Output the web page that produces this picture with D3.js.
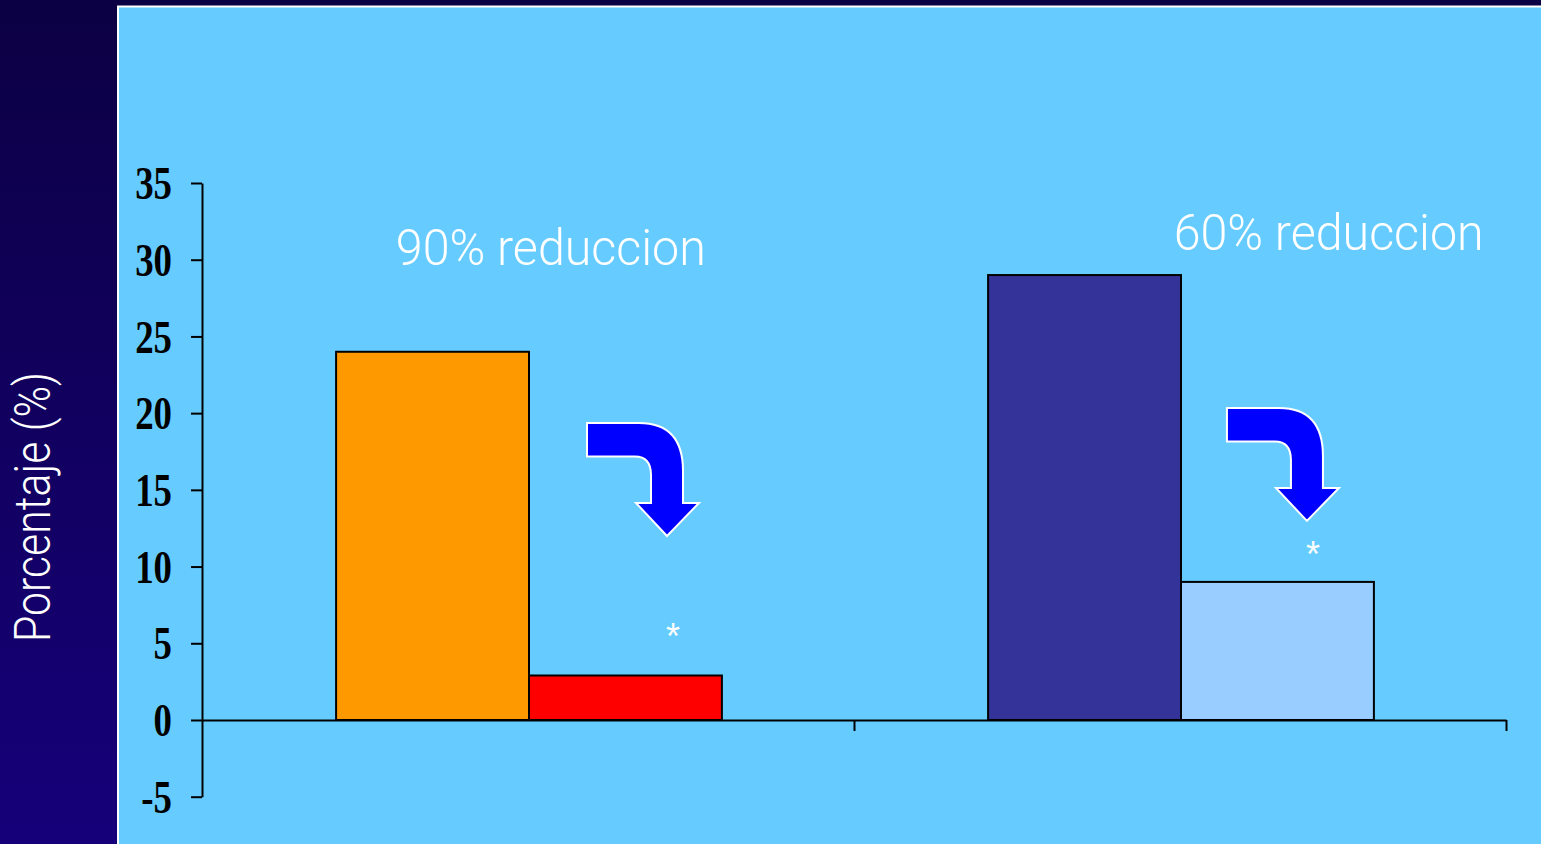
<!DOCTYPE html>
<html>
<head>
<meta charset="utf-8">
<script src="https://cdn.jsdelivr.net/npm/d3@7"></script>
<style>
  html, body { margin: 0; padding: 0; background: #0e0048; overflow: hidden; }
  svg { display: block; }
</style>
</head>
<body>
<svg id="chart" width="1541" height="844"></svg>
<script>
// ---- data ----
const groups = ["Grupo 1", "Grupo 2"];
const subgroups = ["Antes", "Después"];
const valuesGroup1 = [24, 2.9];
const valuesGroup2 = [29, 9];
const barColors = [["#FF9900", "#FF0000"], ["#333399", "#99CCFF"]];
const yTicks = [-5, 0, 5, 10, 15, 20, 25, 30, 35];
const yTitle = "Porcentaje (%)";
const annotationTexts = ["90% reduccion", "60% reduccion"];
const annotationX = [0.535, 1.728];       // in category-boundary units
const annotationY = [29.66, 30.64];       // in value units (baseline)
const arrowX = [0.5905, 1.572];
const arrowY = [19.36, 20.34];
const starX = [0.7224, 1.704];
const starY = [5.8, 11.15];

// ---- layout ----
const svg = d3.select("#chart");
const W = 1541, H = 844;

const defs = svg.append("defs");
const grad = defs.append("linearGradient").attr("id", "bg").attr("x1", 0).attr("y1", 0).attr("x2", 0).attr("y2", 1);
grad.append("stop").attr("offset", "0%").attr("stop-color", "#0c0044");
grad.append("stop").attr("offset", "100%").attr("stop-color", "#16007a");
svg.append("rect").attr("width", W).attr("height", H).attr("fill", "url(#bg)");

// light blue panel
svg.append("rect")
  .attr("x", 118).attr("y", 6.5).attr("width", W).attr("height", H)
  .attr("fill", "#66CCFF").attr("stroke", "#FFFFFF").attr("stroke-width", 2);

const y = d3.scaleLinear().domain([-5, 35]).range([796.7, 183]);
const x0 = d3.scaleBand().domain(groups).range([203, 1507]).paddingInner(0).paddingOuter(0);
const x1 = d3.scaleBand().domain(subgroups).range([0, x0.bandwidth()]).paddingInner(0).paddingOuter(0.69);
const xb = d3.scaleLinear().domain([0, 2]).range([202, 1506]);

const data = groups.map((g, i) => ({
  group: g,
  values: (i === 0 ? valuesGroup1 : valuesGroup2).map((v, j) => ({ key: subgroups[j], value: v, color: barColors[i][j] }))
}));

// bars
const gBars = svg.append("g");
gBars.selectAll("g").data(data).join("g")
  .attr("transform", d => `translate(${x0(d.group)},0)`)
  .selectAll("rect").data(d => d.values).join("rect")
  .attr("x", d => x1(d.key))
  .attr("y", d => y(d.value))
  .attr("width", x1.bandwidth())
  .attr("height", d => y(0) - y(d.value))
  .attr("fill", d => d.color)
  .attr("stroke", "#000")
  .attr("stroke-width", 2);

// y axis
const yAxis = svg.append("g")
  .attr("transform", "translate(202,0)")
  .call(d3.axisLeft(y).tickValues(yTicks).tickSize(11).tickSizeOuter(0).tickFormat(d3.format("d")));
yAxis.select(".domain").attr("stroke", "#000").attr("stroke-width", 2);
yAxis.selectAll(".tick line").attr("stroke", "#000").attr("stroke-width", 2);
const sx = 0.8;
yAxis.selectAll(".tick text")
  .attr("font-family", "'Liberation Serif', 'Times New Roman', serif")
  .attr("font-weight", "bold")
  .attr("font-size", 46)
  .attr("fill", "#000")
  .attr("dy", "0.34em")
  .attr("x", -30 / sx)
  .attr("transform", `scale(${sx},1)`)
  .text(d => d3.format("d")(d).replace("−", "-"));

// x axis
const xAxis = svg.append("g")
  .attr("transform", `translate(0,${y(0)})`)
  .call(d3.axisBottom(xb).tickValues([1, 2]).tickSize(11).tickSizeOuter(0).tickFormat(""));
xAxis.select(".domain").attr("stroke", "#000").attr("stroke-width", 2);
xAxis.selectAll(".tick line").attr("stroke", "#000").attr("stroke-width", 2);

const lightFont = "Roboto, 'Liberation Sans', Arial, sans-serif";

// y title
svg.append("text")
  .attr("transform", `translate(50,${507}) rotate(-90)`)
  .attr("text-anchor", "middle")
  .attr("font-family", lightFont)
  .attr("font-weight", 300)
  .attr("font-size", 50)
  .attr("fill", "#FFFFFF")
  .attr("textLength", 270)
  .attr("lengthAdjust", "spacingAndGlyphs")
  .text(yTitle);

// annotations
svg.append("g").selectAll("text").data(annotationTexts).join("text")
  .attr("x", (d, i) => xb(annotationX[i]))
  .attr("y", (d, i) => y(annotationY[i]))
  .attr("text-anchor", "middle")
  .attr("font-family", lightFont)
  .attr("font-weight", 300)
  .attr("font-size", 50)
  .attr("fill", "#FFFFFF")
  .attr("textLength", 310)
  .attr("lengthAdjust", "spacingAndGlyphs")
  .text(d => d);

// curved arrows
const arrowPath = "M0,0 L52,0 Q96,0 96,48 L96,80 L112,80 L80,113 L49,80 L64,80 L64,52 Q64,33.5 48,33.5 L0,33.5 Z";
svg.append("g").selectAll("path").data(arrowX).join("path")
  .attr("transform", (d, i) => `translate(${xb(d)},${y(arrowY[i])})`)
  .attr("d", arrowPath)
  .attr("fill", "#0000FF")
  .attr("stroke", "#FFFFFF")
  .attr("stroke-width", 2)
  .attr("stroke-linejoin", "miter");

// asterisks
svg.append("g").selectAll("text").data(starX).join("text")
  .attr("x", d => xb(d))
  .attr("y", (d, i) => y(starY[i]) + 18)
  .attr("text-anchor", "middle")
  .attr("font-family", "'Liberation Sans', Arial, sans-serif")
  .attr("font-size", 36)
  .attr("fill", "#FFFFFF")
  .text("*");
</script>
</body>
</html>
